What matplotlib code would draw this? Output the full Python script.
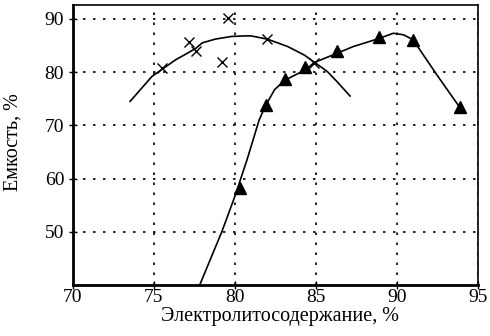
import matplotlib
matplotlib.use("Agg")
import matplotlib.pyplot as plt

# Data
cross_x = [75.5, 77.2, 77.6, 79.2, 79.6, 82.0, 84.9]
cross_y = [80.8, 85.6, 84.0, 81.9, 90.2, 86.2, 81.7]

cross_curve_x = [73.55, 74.9, 76.35, 77.57, 78.0, 78.8, 79.8, 80.6, 81.0, 82.0, 83.26, 84.28, 84.93, 85.7, 86.3, 87.1]
cross_curve_y = [74.5, 79.2, 82.3, 84.4, 85.5, 86.2, 86.7, 86.8, 86.8, 86.2, 84.8, 83.2, 81.8, 80.1, 78.2, 75.5]

tri_x = [80.3, 81.9, 83.1, 84.35, 86.3, 88.9, 91.0, 93.9]
tri_y = [58.2, 73.8, 78.7, 80.9, 83.9, 86.5, 86.1, 73.4]

tri_curve_x = [77.84, 79.2, 80.0, 80.75, 81.5, 81.88, 82.45, 83.1, 84.34, 84.9, 86.27, 87.3, 88.87, 89.77, 90.4, 90.98, 92.4, 93.9]
tri_curve_y = [40.0, 50.0, 56.6, 63.5, 71.0, 73.6, 76.7, 78.5, 80.4, 81.8, 83.5, 84.8, 86.3, 87.3, 87.0, 86.1, 79.7, 73.2]

xticks = [70, 75, 80, 85, 90, 95]
yticks = [50, 60, 70, 80, 90]

plt.rcParams['font.family'] = ['Liberation Serif', 'DejaVu Serif']

fig = plt.figure(figsize=(4.9, 3.36), dpi=100)
ax = fig.add_axes([0.148, 0.152, 0.828, 0.833])

ax.plot(cross_curve_x, cross_curve_y, color='black', lw=1.2, zorder=3)
ax.plot(tri_curve_x, tri_curve_y, color='black', lw=1.2, zorder=3)
ax.plot(cross_x, cross_y, linestyle='none', marker='x', color='black', ms=7, mew=1.0, zorder=4)
ax.plot(tri_x, tri_y, linestyle='none', marker='^', color='black', ms=9, zorder=4)

ax.set_xlim(70, 95)
ax.set_ylim(40, 92.6)
ax.set_xticks(xticks)
ax.set_yticks(yticks)
ax.grid(True, color='black', linestyle=(0, (1.5, 4.5)), linewidth=1.2)
ax.tick_params(direction='inout', length=6, width=1, labelsize=14)
ax.tick_params(axis='x', pad=0)
ax.tick_params(axis='y', pad=3)
for s in ['left', 'bottom']:
    ax.spines[s].set_linewidth(2)
for s in ['top', 'right']:
    ax.spines[s].set_linewidth(1.2)

fig.text(0.571, 0.058, 'Электролитосодержание, %', fontsize=14.5, ha='center', va='center')
fig.text(0.026, 1 - 142 / 336, 'Емкость, %', fontsize=14.5, ha='center', va='center', rotation=90)

fig.savefig('out.png', dpi=100)
